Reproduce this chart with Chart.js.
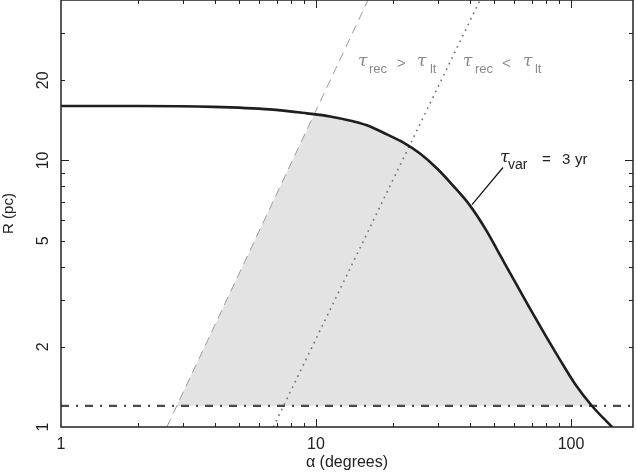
<!DOCTYPE html>
<html><head><meta charset="utf-8">
<script src="https://cdn.jsdelivr.net/npm/chart.js@4.4.1/dist/chart.umd.min.js"></script>
<style>html,body{margin:0;padding:0;background:#fff;}canvas{display:block;}</style>
</head><body>
<canvas id="c" width="637" height="475"></canvas>
<script>
// ---- data (alpha in degrees, R in pc) ----
const curveAlpha = [1, 2, 3.95, 6.59, 9.22, 11.35, 13.97, 16.29, 18.98, 21.94, 25.57, 29.83, 34.45, 40.18, 46.84, 51.27, 56.11, 69.06, 79.07, 90.56, 103.7, 120.9, 144.8];
const curveR     = [16.0, 16.0, 15.89, 15.55, 15.02, 14.63, 14.02, 13.42, 12.52, 11.69, 10.62, 9.33, 8.05, 6.77, 5.41, 4.63, 3.96, 2.78, 2.22, 1.786, 1.451, 1.199, 1.0];
const dashedAlpha = [2.6, 16.0];
const dashedR     = [1, 40];
const dottedAlpha = [6.8, 44];
const dottedR     = [1, 40];
const floorLevel  = 1.2;
const floorAlpha  = [1, 175];
const fillStart = [2.84, 1.2];
const fillJoin  = [9.85, 14.9];
const fillEnd   = [120.9, 1.2];
const leaderAlpha = [40.9, 54.1];
const leaderR     = [6.83, 9.41];
const xTickLabels = [1, 10, 100];
const yTickLabels = [1, 2, 5, 10, 20];
const xMinorTicks = [2, 3, 4, 5, 6, 7, 8, 9, 20, 30, 40, 50, 60, 70, 80, 90];
const xMajorTicks = [10, 100];
const yMinorTicks = [2, 3, 4, 5, 6, 7, 8, 9, 20, 30];
const yMajorTicks = [10];

const pts = (xs, ys) => xs.map((x, i) => ({x, y: ys[i]}));
const curvePts = pts(curveAlpha, curveR);
const fillPts = [{x: fillStart[0], y: fillStart[1]}, {x: fillJoin[0], y: fillJoin[1]}]
  .concat(curvePts.filter(p => p.x > fillJoin[0] && p.y > floorLevel + 0.01))
  .concat([{x: fillEnd[0], y: fillEnd[1]}]);

const SANS = "'Liberation Sans', Arial, Helvetica, sans-serif";

const decor = {
  id: 'decor',
  afterDatasetsDraw(chart) {
    const {ctx, chartArea: a, scales: {x, y}} = chart;
    ctx.save();
    ctx.strokeStyle = '#222';
    ctx.lineWidth = 1;
    const tick = (v, len, horiz) => {
      ctx.beginPath();
      if (horiz) {
        const px = Math.round(x.getPixelForValue(v)) + 0.5;
        ctx.moveTo(px, a.bottom); ctx.lineTo(px, a.bottom - len);
        ctx.moveTo(px, a.top); ctx.lineTo(px, a.top + len);
      } else {
        const py = Math.round(y.getPixelForValue(v)) + 0.5;
        ctx.moveTo(a.left, py); ctx.lineTo(a.left + len, py);
        ctx.moveTo(a.right, py); ctx.lineTo(a.right - len, py);
      }
      ctx.stroke();
    };
    xMinorTicks.forEach(v => tick(v, 4, true));
    xMajorTicks.forEach(v => tick(v, 8, true));
    yMinorTicks.forEach(v => tick(v, 4, false));
    yMajorTicks.forEach(v => tick(v, 8, false));
    ctx.lineWidth = 1.5;
    ctx.strokeStyle = '#222';
    ctx.strokeRect(a.left, a.top, a.right - a.left, a.bottom - a.top);

    const parts = (ax, ay, list, color) => {
      const x0 = x.getPixelForValue(ax), y0 = y.getPixelForValue(ay);
      ctx.fillStyle = color;
      ctx.textBaseline = 'alphabetic';
      ctx.textAlign = 'left';
      list.forEach(p => { ctx.font = p[1]; ctx.fillText(p[0], x0 + p[2], y0 + p[3]); });
    };
    const TAU = "italic 17px 'DejaVu Serif', serif";
    const SUB = "13px " + SANS;
    const OP = "15px " + SANS;
    parts(14.6, 22.6, [['τ', TAU, 0, 0], ['rec', SUB, 11, 7], ['>', OP, 39, 2], ['τ', TAU, 59, 0], ['lt', SUB, 72, 7]], '#8a8a8a');
    parts(37.7, 22.6, [['τ', TAU, 0, 0], ['rec', SUB, 12, 7], ['<', OP, 39, 2], ['τ', TAU, 60, 0], ['lt', SUB, 72, 7]], '#8a8a8a');
    parts(52.7, 9.83, [['τ', TAU, 0, 0], ['var', "14px " + SANS, 8, 7], ['=', OP, 42, 2], ['3', OP, 62, 2], ['yr', OP, 75, 2]], '#222');
    ctx.restore();
  }
};

new Chart(document.getElementById('c'), {
  type: 'line',
  data: {
    datasets: [
      {data: curvePts, borderColor: '#1e1e1e', borderWidth: 2.6, pointRadius: 0, fill: false, cubicInterpolationMode: 'monotone', order: 0},
      {data: pts(leaderAlpha, leaderR), borderColor: '#111', borderWidth: 1.2, pointRadius: 0, fill: false, order: 1},
      {data: pts(floorAlpha, [floorLevel, floorLevel]), borderColor: '#4a4a4a', borderWidth: 2.2, borderDash: [8, 7, 2, 7], pointRadius: 0, fill: false, order: 2},
      {data: pts(dottedAlpha, dottedR), borderColor: '#6e6e6e', borderWidth: 1.6, borderDash: [1.6, 4.6], pointRadius: 0, fill: false, order: 3},
      {data: pts(dashedAlpha, dashedR), borderColor: '#9a9a9a', borderWidth: 1, borderDash: [9, 6], pointRadius: 0, fill: false, order: 4},
      {data: fillPts, borderWidth: 0, borderColor: 'rgba(0,0,0,0)', backgroundColor: '#e3e3e3', pointRadius: 0, fill: {value: floorLevel}, tension: 0, order: 5}
    ]
  },
  options: {
    responsive: false, animation: false, devicePixelRatio: 1, events: [],
    layout: {padding: {top: 0, right: 4, left: 0, bottom: 0}},
    plugins: {legend: {display: false}, tooltip: {enabled: false}},
    scales: {
      x: {
        type: 'logarithmic', min: 1, max: 175, position: 'bottom',
        afterBuildTicks: s => { s.ticks = xTickLabels.map(v => ({value: v})); },
        afterFit: s => { s.height = 48; s.paddingLeft = 0; s.paddingRight = 0; },
        grid: {display: false, drawTicks: false}, border: {display: false},
        ticks: {font: {family: SANS, size: 16}, color: '#222', padding: 8, maxRotation: 0, minRotation: 0, autoSkip: false, callback: v => String(v)},
        title: {display: true, text: 'α (degrees)', font: {family: SANS, size: 16}, color: '#222', padding: {top: 0, bottom: 3}}
      },
      y: {
        type: 'logarithmic', min: 1, max: 40, position: 'left',
        afterBuildTicks: s => { s.ticks = yTickLabels.map(v => ({value: v})); },
        afterFit: s => { s.width = 61; s.paddingTop = 0; s.paddingBottom = 0; },
        grid: {display: false, drawTicks: false}, border: {display: false},
        ticks: {font: {family: SANS, size: 16}, color: '#222', padding: 9, minRotation: 90, maxRotation: 90, crossAlign: 'center', autoSkip: false, callback: v => String(v)},
        title: {display: true, text: 'R (pc)', font: {family: SANS, size: 15}, color: '#222', padding: {top: 0, bottom: 0}}
      }
    }
  },
  plugins: [decor]
});
</script>
</body></html>
